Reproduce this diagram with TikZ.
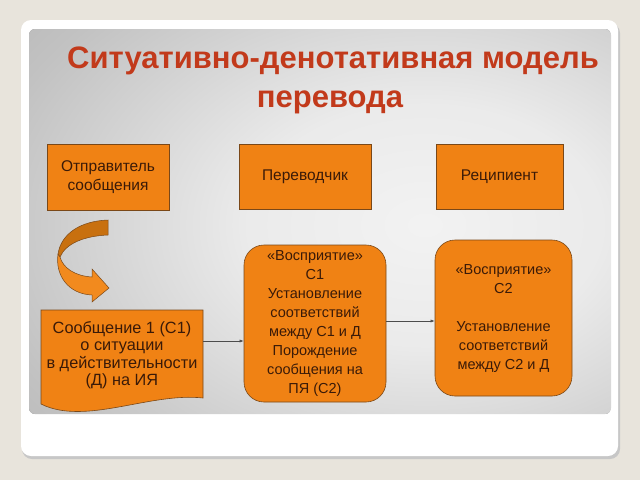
\documentclass[tikz,border=0pt]{standalone}
\usepackage{fontspec}
\setmainfont{Liberation Sans}
\usetikzlibrary{arrows.meta}
\definecolor{bgbeige}{HTML}{E8E4DC}
\definecolor{boxorange}{HTML}{F08214}
\definecolor{boxedge}{HTML}{7A4818}
\definecolor{txtdark}{HTML}{3A1A08}
\definecolor{titlered}{HTML}{C23A1B}
\definecolor{arrowdark}{HTML}{C8700F}
\definecolor{arrowlight}{HTML}{F28A1E}
\pgfdeclareradialshading{panelshade}{\pgfpoint{0bp}{0bp}}{color(0bp)=(black!5); color(8bp)=(black!8); color(20bp)=(black!24); color(35bp)=(black!38); color(50bp)=(black!46)}
\begin{document}
\begin{tikzpicture}[x=1pt,y=-1pt,
  topbox/.style={draw=boxedge, line width=0.6pt, fill=boxorange, text=txtdark, align=center,
    font=\fontsize{15.5}{19}\selectfont, inner sep=0pt},
  roundbox/.style={draw=boxedge, line width=0.6pt, fill=boxorange, text=txtdark, align=center,
    font=\fontsize{14.5}{19}\selectfont, inner sep=0pt, rounded corners=20pt},
  conn/.style={draw=black!70, line width=0.5pt, -{Latex[length=4pt,width=3pt]}},
  ttl/.style={font=\fontsize{31}{38}\selectfont\bfseries, text=titlered, anchor=base}]
\useasboundingbox (0,0) rectangle (640,480);
\fill[bgbeige] (0,0) rectangle (640,480);
\fill[black!22, rounded corners=10pt] (22,23) rectangle (620,459);
\fill[white, rounded corners=10pt] (21,20) rectangle (618,456);
\begin{scope}
  \clip[rounded corners=6pt] (29,29) rectangle (611,414);
  \fill[black!46] (29,29) rectangle (611,414);
  \shade[shading=panelshade] (425,225) ellipse [x radius=560pt, y radius=380pt];
\end{scope}
% title
\node[ttl] (title) at (333,68) {Ситуативно-денотативная модель};
\node[ttl] (titleb) at (330,107) {перевода};
% top boxes
\node[topbox, minimum width=122pt, minimum height=66pt] (sender) at (108,177) {Отправитель\\сообщения};
\node[topbox, minimum width=132pt, minimum height=65pt] (transl) at (305,176.5) {Переводчик};
\node[topbox, minimum width=127pt, minimum height=65pt] (recip) at (499.5,176.5) {Реципиент};
% curved arrow
\filldraw[fill=arrowdark, draw=boxedge, line width=0.5pt]
  (108,220) .. controls (80,221) and (61,234) .. (58,254) -- (60,257)
  .. controls (66,243) and (85,236) .. (108,235) -- cycle;
\filldraw[fill=arrowlight, draw=boxedge, line width=0.5pt]
  (58,254) .. controls (55,275) and (68,294) .. (92,295) -- (92,302) -- (109,288)
  -- (92,269) -- (92,277) .. controls (75,276) and (63,268) .. (60,257) -- cycle;
% message document shape
\filldraw[fill=boxorange, draw=boxedge, line width=0.6pt]
  (41,310) -- (203,310) -- (203,398)
  .. controls (150,392) and (85,426) .. (41,404) -- cycle;
\node[text=txtdark, align=center, font=\fontsize{16.3}{17.5}\selectfont, inner sep=0pt,
  minimum width=162pt, minimum height=90pt] (msg) at (122,355)
  {Сообщение 1 (С1)\\о ситуации\\в действительности\\(Д) на ИЯ};
% rounded boxes
\node[roundbox, minimum width=142pt, minimum height=157pt] (c1) at (315,323.5)
  {«Восприятие»\\С1\\Установление\\соответствий\\между С1 и Д\\Порождение\\сообщения на\\ПЯ (С2)};
\node[roundbox, minimum width=137pt, minimum height=156pt] (c2) at (503.5,318)
  {\mbox{}\\[-9pt]«Восприятие»\\С2\\[19pt]Установление\\соответствий\\между С2 и Д};
% connectors
\coordinate (a1) at ([yshift=14pt]msg.east);
\draw[conn] (a1) -- (a1 -| c1.west);
\coordinate (a2) at ([yshift=2.5pt]c1.east);
\draw[conn] (a2) -- (a2 -| c2.west);
\end{tikzpicture}
\end{document}
